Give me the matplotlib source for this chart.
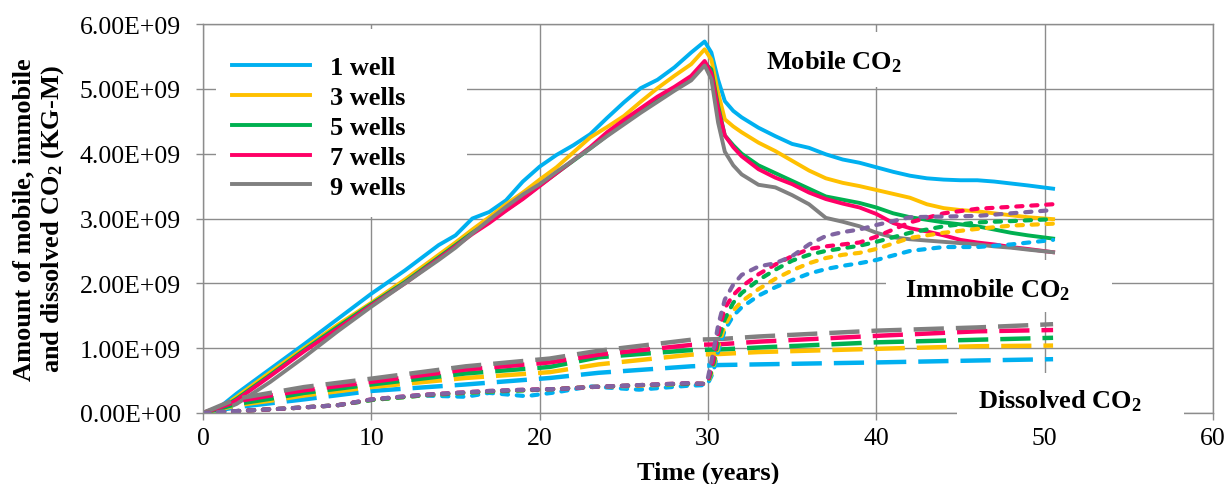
import matplotlib
matplotlib.use("Agg")
import matplotlib.pyplot as plt
from matplotlib.patches import Rectangle
from matplotlib.ticker import FuncFormatter

plt.rcParams['font.family'] = ['Liberation Serif', 'DejaVu Serif']
plt.rcParams['mathtext.fontset'] = 'custom'
plt.rcParams['mathtext.rm'] = 'Liberation Serif:bold'
plt.rcParams['mathtext.it'] = 'Liberation Serif:bold'
plt.rcParams['mathtext.bf'] = 'Liberation Serif:bold'

# ---------------- data (values in units of 1e9 kg-mole) ----------------
well_labels = ['1 well', '3 wells', '5 wells', '7 wells', '9 wells']

# Mobile CO2 (solid lines)
t_mobile = [0, 1, 2, 4, 6, 8, 10, 12, 14, 15, 16, 17, 18, 19, 20, 21, 22, 23, 24, 25,
            26, 27, 28, 29, 29.8, 30.2, 30.6, 31.0, 31.5, 32, 33, 34, 35, 36, 37, 38,
            39, 40, 41, 42, 43, 44, 45, 46, 47, 48, 49, 50.5]
mobile_1 = [0, 0.09, 0.30, 0.68, 1.06, 1.45, 1.84, 2.20, 2.59, 2.74, 3.00, 3.10, 3.28, 3.57,
            3.80, 3.98, 4.13, 4.30, 4.55, 4.79, 5.01, 5.14, 5.33, 5.56, 5.73, 5.56, 5.14,
            4.81, 4.66, 4.56, 4.40, 4.27, 4.15, 4.09, 3.99, 3.91, 3.86, 3.79, 3.72, 3.66,
            3.62, 3.60, 3.59, 3.59, 3.57, 3.54, 3.51, 3.46]
mobile_3 = [0, 0.07, 0.25, 0.63, 1.00, 1.36, 1.70, 2.06, 2.44, 2.63, 2.83, 3.02, 3.22, 3.40,
            3.60, 3.79, 4.02, 4.25, 4.41, 4.58, 4.80, 5.01, 5.20, 5.38, 5.61, 5.45, 4.94,
            4.53, 4.42, 4.33, 4.17, 4.04, 3.89, 3.74, 3.62, 3.55, 3.50, 3.44, 3.38, 3.32,
            3.22, 3.16, 3.13, 3.11, 3.08, 3.05, 3.02, 2.99]
mobile_5 = [0, 0.06, 0.22, 0.59, 0.97, 1.33, 1.68, 2.02, 2.40, 2.59, 2.78, 2.95, 3.13, 3.31,
            3.51, 3.70, 3.89, 4.08, 4.28, 4.47, 4.66, 4.84, 5.00, 5.16, 5.40, 5.30, 4.74,
            4.28, 4.13, 4.00, 3.82, 3.70, 3.58, 3.46, 3.34, 3.29, 3.24, 3.17, 3.08, 3.02,
            2.98, 2.94, 2.91, 2.88, 2.83, 2.78, 2.74, 2.69]
mobile_7 = [0, 0.05, 0.20, 0.57, 0.95, 1.30, 1.66, 2.00, 2.38, 2.57, 2.76, 2.93, 3.12, 3.30,
            3.50, 3.70, 3.90, 4.10, 4.33, 4.52, 4.70, 4.88, 5.03, 5.20, 5.43, 5.24, 4.69,
            4.28, 4.10, 3.96, 3.76, 3.63, 3.53, 3.40, 3.30, 3.23, 3.17, 3.07, 2.93, 2.85,
            2.80, 2.74, 2.67, 2.63, 2.60, 2.56, 2.53, 2.48]
mobile_9 = [0, 0.03, 0.14, 0.48, 0.86, 1.26, 1.64, 2.00, 2.36, 2.55, 2.77, 2.98, 3.18, 3.37,
            3.53, 3.72, 3.90, 4.08, 4.27, 4.45, 4.63, 4.80, 4.97, 5.13, 5.36, 5.15, 4.48,
            4.03, 3.82, 3.68, 3.52, 3.48, 3.36, 3.22, 3.01, 2.95, 2.88, 2.78, 2.71, 2.68,
            2.66, 2.64, 2.62, 2.60, 2.57, 2.55, 2.52, 2.48]

# Immobile (residually trapped) CO2 (short dashes)
t_immobile = [0, 2, 5, 8, 10, 13, 15.6, 17, 19.2, 21, 23, 25.9, 28.8, 29.8, 30.0, 30.3, 30.6,
              31.0, 31.5, 32, 33, 34, 35, 36, 37, 38, 39, 40, 42, 44, 46, 48, 50.5]
immobile_1 = [0, 0.03, 0.07, 0.12, 0.20, 0.27, 0.25, 0.31, 0.26, 0.32, 0.41, 0.36, 0.42, 0.43,
              0.46, 0.62, 0.95, 1.28, 1.50, 1.63, 1.81, 1.94, 2.05, 2.15, 2.22, 2.27, 2.31,
              2.36, 2.50, 2.56, 2.56, 2.60, 2.67]
immobile_3 = [0, 0.03, 0.07, 0.12, 0.20, 0.27, 0.31, 0.33, 0.35, 0.37, 0.40, 0.42, 0.45, 0.45,
              0.47, 0.68, 1.02, 1.35, 1.58, 1.72, 1.91, 2.07, 2.20, 2.31, 2.39, 2.44, 2.47,
              2.53, 2.70, 2.78, 2.84, 2.89, 2.92]
immobile_5 = [0, 0.03, 0.07, 0.12, 0.20, 0.27, 0.31, 0.33, 0.35, 0.37, 0.40, 0.43, 0.45, 0.45,
              0.48, 0.72, 1.10, 1.45, 1.70, 1.85, 2.05, 2.21, 2.35, 2.44, 2.50, 2.54, 2.58,
              2.64, 2.78, 2.88, 2.94, 2.96, 2.99]
immobile_7 = [0, 0.03, 0.07, 0.12, 0.21, 0.28, 0.32, 0.34, 0.36, 0.37, 0.40, 0.43, 0.46, 0.45,
              0.50, 0.80, 1.22, 1.62, 1.82, 1.95, 2.14, 2.29, 2.42, 2.53, 2.57, 2.60, 2.63,
              2.72, 2.94, 3.08, 3.15, 3.18, 3.22]
immobile_9 = [0, 0.03, 0.07, 0.12, 0.21, 0.28, 0.32, 0.34, 0.36, 0.37, 0.40, 0.43, 0.46, 0.45,
              0.55, 0.92, 1.35, 1.75, 1.98, 2.13, 2.26, 2.31, 2.42, 2.60, 2.73, 2.79, 2.83,
              2.90, 3.02, 3.03, 3.04, 3.08, 3.13]

# Dissolved CO2 (long dashes)
t_dissolved = [0, 2, 4, 6, 10, 15.6, 20.6, 23.5, 29, 30.7, 33, 40, 46, 50.5]
dissolved_1 = [0, 0.09, 0.15, 0.21, 0.34, 0.44, 0.54, 0.62, 0.72, 0.74, 0.75, 0.78, 0.81, 0.83]
dissolved_3 = [0, 0.12, 0.19, 0.27, 0.40, 0.54, 0.63, 0.75, 0.90, 0.91, 0.94, 0.99, 1.03, 1.04]
dissolved_5 = [0, 0.14, 0.22, 0.31, 0.44, 0.61, 0.71, 0.86, 0.97, 0.98, 1.01, 1.09, 1.13, 1.16]
dissolved_7 = [0, 0.18, 0.27, 0.35, 0.48, 0.67, 0.78, 0.90, 1.05, 1.06, 1.10, 1.19, 1.26, 1.28]
dissolved_9 = [0, 0.22, 0.31, 0.40, 0.53, 0.72, 0.84, 0.96, 1.13, 1.14, 1.18, 1.27, 1.32, 1.37]

x_ticks = [0, 10, 20, 30, 40, 50, 60]
y_ticks = [0, 1e9, 2e9, 3e9, 4e9, 5e9, 6e9]

SCALE = 1e9
mobile = [mobile_1, mobile_3, mobile_5, mobile_7, mobile_9]
immobile = [immobile_1, immobile_3, immobile_5, immobile_7, immobile_9]
dissolved = [dissolved_1, dissolved_3, dissolved_5, dissolved_7, dissolved_9]

line_colors = ['#00B0F0', '#FFC000', '#00B050', '#FF0066', '#808080']
immobile_colors = ['#00B0F0', '#FFC000', '#00B050', '#FF0066', '#8064A2']

grid_col = '#8c8c8c'

# ---------------- figure ----------------
fig = plt.figure(figsize=(12.31, 4.85), dpi=100)
ax = fig.add_axes([203 / 1231, 1 - 414 / 485, 1010 / 1231, 389 / 485])
ax.set_axisbelow(True)

for vals, col, lab in zip(mobile, line_colors, well_labels):
    ax.plot(t_mobile, [v * SCALE for v in vals], color=col, lw=2.8, label=lab,
            solid_joinstyle='round', zorder=2)

for vals, col in zip(dissolved, line_colors):
    ax.plot(t_dissolved, [v * SCALE for v in vals], color=col, lw=3.2,
            dashes=(6.8, 2.7), dash_capstyle='butt', zorder=2.1)

for vals, col in zip(immobile, immobile_colors):
    ax.plot(t_immobile, [v * SCALE for v in vals], color=col, lw=3.0,
            dashes=(1.5, 2.1), dash_capstyle='round', zorder=2.2)

ax.set_xlim(0, 60)
ax.set_ylim(0, 6e9)
ax.set_xticks(x_ticks)
ax.set_yticks(y_ticks)
ax.yaxis.set_major_formatter(FuncFormatter(lambda v, p: f"{v:.2E}"))

ax.grid(True, color=grid_col, lw=1.0)
for s in ax.spines.values():
    s.set_color(grid_col)
    s.set_linewidth(1.0)
ax.tick_params(axis='both', direction='out', length=5, width=1.0, color=grid_col,
               labelsize=18.5, labelcolor='black')
ax.tick_params(axis='y', pad=11)
ax.tick_params(axis='x', pad=5)

# white panels behind the legend and the annotations
panel_kw = dict(facecolor='white', edgecolor='none', clip_on=False, zorder=3)
ax.add_patch(Rectangle((0.8, 3.03e9), 14.9, 2.9e9, **{**panel_kw, 'zorder': 1}))
ax.add_patch(Rectangle((33.0, 5.03e9), 10.0, 0.85e9, **panel_kw))
ax.add_patch(Rectangle((40.6, 1.56e9), 13.4, 0.80e9, **panel_kw))
ax.add_patch(Rectangle((44.8, -0.14e9), 13.5, 0.76e9, **panel_kw))

txt_kw = dict(fontsize=19, fontweight='bold', ha='center', va='center', zorder=4)
ax.text(37.5, 5.42e9, 'Mobile CO$_2$', **txt_kw)
ax.text(46.6, 1.91e9, 'Immobile CO$_2$', **txt_kw)
ax.text(50.9, 0.19e9, 'Dissolved CO$_2$', **txt_kw, clip_on=False)

leg = ax.legend(loc='upper left', bbox_to_anchor=(0.0287, 0.918), frameon=False,
                prop={'size': 19, 'weight': 'bold'}, handlelength=2.95,
                handletextpad=0.76, labelspacing=0.24, borderpad=0, borderaxespad=0)
leg.set_zorder(5)

ax.set_xlabel('Time (years)', fontsize=19, fontweight='bold')
ax.xaxis.set_label_coords(0.5, -0.152)
ax.xaxis.label.set_va('center')
ax.set_ylabel('Amount of mobile, immobile\nand dissolved CO$_2$ (KG-M)',
              fontsize=19, fontweight='bold', linespacing=1.2)
ax.yaxis.set_label_coords(-0.162, 0.5)
ax.yaxis.label.set_va('center')

fig.savefig('out.png', dpi=100)
